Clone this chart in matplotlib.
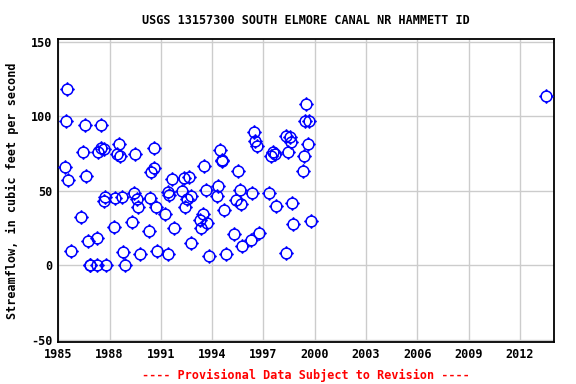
import matplotlib
matplotlib.use('Agg')
import matplotlib.pyplot as plt
from matplotlib.path import Path

# approximate measurement dates (decimal year) and streamflow (cfs)
years = [
	1985.53, 1985.47, 1986.58, 1987.51, 1988.57, 1986.46, 1987.34, 1987.48, 1987.65, 1988.45,
	1988.62, 1989.48, 1990.59, 1985.41, 1985.58, 1986.64, 1990.58, 1990.42, 1991.66, 1992.36,
	1989.44, 1991.43, 1991.49, 1992.23, 1987.75, 1987.67, 1988.33, 1988.74, 1989.62, 1989.68,
	1990.38, 1990.73, 1991.25, 1992.40, 1986.34, 1988.27, 1989.32, 1990.32, 1991.76, 1987.28,
	1986.75, 1985.76, 1988.80, 1989.79, 1990.79, 1991.39, 1986.84, 1986.87, 1987.24, 1987.81,
	1988.92, 1999.49, 1999.42, 1999.69, 1996.46, 1996.51, 1996.63, 1998.31, 1998.56, 1998.64,
	1999.61, 1994.47, 1994.55, 1994.57, 1997.43, 1997.57, 1997.67, 1998.44, 1999.38, 1999.32,
	1993.53, 1995.52, 1992.62, 1993.65, 1994.35, 1994.29, 1995.64, 1996.34, 1997.33, 1992.54,
	1992.74, 1995.40, 1995.70, 1994.68, 1997.74, 1998.68, 1993.47, 1993.30, 1993.71, 1993.36,
	1999.79, 1998.73, 1992.77, 1995.29, 1996.75, 1996.26, 1995.75, 1993.79, 1994.82, 1998.33,
	2013.55,
]
flow = [
	117.9, 96.9, 94.2, 94.2, 81.5, 76.1, 76.1, 78.5, 78.1, 74.3,
	73.5, 74.3, 78.8, 66.1, 57.4, 60.1, 65.0, 62.3, 57.6, 58.7,
	48.2, 48.9, 47.1, 50.0, 45.5, 43.3, 45.3, 46.0, 44.2, 39.3,
	45.3, 39.3, 34.6, 39.0, 32.6, 25.9, 29.3, 23.2, 25.2, 18.5,
	16.5, 9.8, 8.7, 7.2, 9.2, 7.2, 0.0, 0.0, 0.0, 0.0,
	0.0, 108.3, 96.4, 96.4, 89.5, 83.5, 79.7, 86.4, 85.7, 82.6,
	81.5, 77.5, 70.1, 70.5, 73.5, 75.9, 74.5, 76.1, 73.5, 63.4,
	66.8, 63.4, 59.4, 50.7, 53.4, 46.7, 50.7, 48.7, 48.7, 44.7,
	46.7, 44.0, 41.3, 37.3, 40.0, 42.0, 34.6, 30.6, 28.6, 25.2,
	29.5, 27.3, 15.2, 21.2, 21.9, 17.2, 13.2, 6.5, 7.8, 8.5,
	113.6,
]
x_ticks = [1985, 1988, 1991, 1994, 1997, 2000, 2003, 2006, 2009, 2012]
y_ticks = [-50, 0, 50, 100, 150]

# circle with four little ticks outside it (usgs style marker)
circ = Path.unit_circle()
tk = Path([(1, 0), (1.35, 0), (-1, 0), (-1.35, 0), (0, 1), (0, 1.35), (0, -1), (0, -1.35)],
	[Path.MOVETO, Path.LINETO] * 4)
marker = Path.make_compound_path(circ, tk)

font = {'family': 'DejaVu Sans Mono', 'weight': 'bold', 'size': 8.45}

fig = plt.figure(figsize=(5.76, 3.84), dpi=100)
ax = fig.add_axes([0.1012, 0.1094, 0.8606, 0.7883])

ax.plot(years, flow, linestyle='none', marker=marker, markersize=10.5,
	markerfacecolor='none', markeredgecolor='#0000FF', markeredgewidth=1.1, zorder=3)

ax.set_xlim(1985, 2014)
ax.set_ylim(-51.5, 151.5)
ax.set_xticks(x_ticks)
ax.set_yticks(y_ticks)
ax.set_xticklabels([str(t) for t in x_ticks], fontdict=font)
ax.set_yticklabels([str(t) for t in y_ticks], fontdict=font)
ax.tick_params(length=0, pad=4)
ax.grid(True, color='#CCCCCC', linewidth=1)
ax.set_axisbelow(True)
for s in ax.spines.values():
	s.set_linewidth(1.3)
	s.set_color('black')

ax.set_ylabel('Streamflow, in cubic feet per second', fontdict=font, labelpad=9)
# title and footer are centred on the plot area, not the figure
cx = 0.1012 + 0.8606 / 2
fig.text(cx, 0.946, 'USGS 13157300 SOUTH ELMORE CANAL NR HAMMETT ID', ha='center', va='center', **font)
fig.text(cx, 0.023, '---- Provisional Data Subject to Revision ----', ha='center', va='center',
	color='#FF0000', **font)

fig.savefig('out.png', dpi=100)
